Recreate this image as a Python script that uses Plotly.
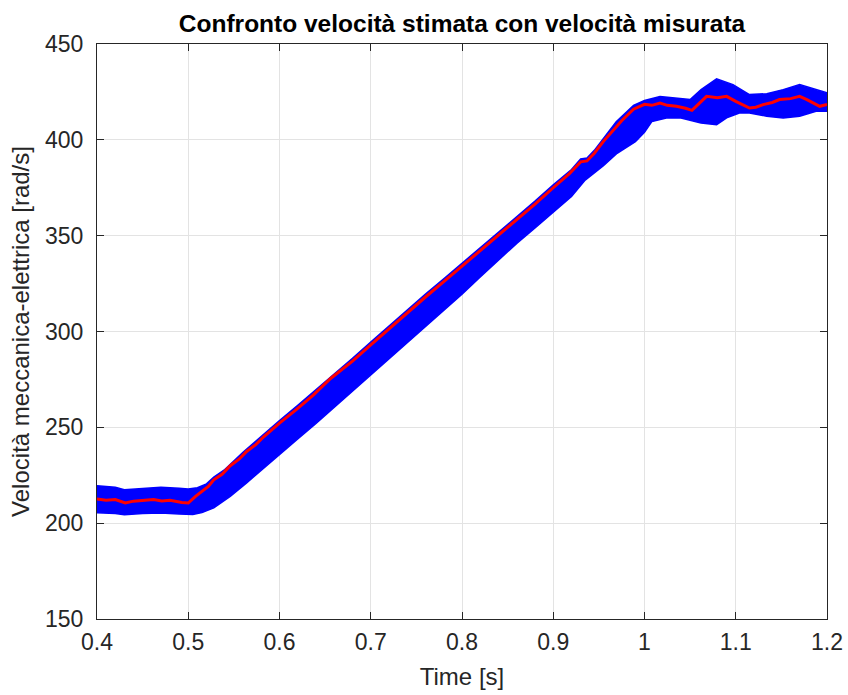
import plotly.graph_objects as go

# Measured speed (red trace)
t_meas = [0.400, 0.410, 0.420, 0.431, 0.440, 0.453, 0.462, 0.471, 0.480, 0.493, 0.500,
          0.508, 0.513, 0.522, 0.528, 0.537, 0.546, 0.556, 0.564, 0.574, 0.583, 0.600,
          0.619, 0.637, 0.656, 0.680, 0.700, 0.720, 0.740, 0.760, 0.780, 0.800, 0.820,
          0.840, 0.860, 0.880, 0.900, 0.918, 0.925, 0.930, 0.937, 0.945, 0.955, 0.966,
          0.975, 0.988, 1.000, 1.008, 1.017, 1.025, 1.035, 1.045, 1.052, 1.060, 1.068,
          1.080, 1.090, 1.100, 1.108, 1.115, 1.122, 1.130, 1.140, 1.148, 1.160, 1.170,
          1.178, 1.185, 1.192, 1.200]
v_meas = [212.6, 212.0, 212.3, 210.5, 211.5, 211.8, 212.3, 211.6, 211.9, 210.8, 210.5,
          214.0, 215.7, 219.2, 222.6, 225.5, 230.0, 233.5, 237.4, 241.0, 245.2, 252.2,
          259.5, 266.8, 275.5, 284.5, 293.0, 301.5, 310.0, 318.0, 326.0, 334.0, 342.0,
          350.5, 358.5, 366.5, 375.0, 382.5, 386.0, 388.5, 389.0, 393.0, 399.2, 405.0,
          410.0, 416.0, 418.5, 418.0, 419.2, 418.0, 417.5, 416.5, 415.4, 419.0, 422.7,
          422.0, 422.7, 420.1, 418.0, 416.6, 417.0, 418.4, 419.5, 421.0, 421.5, 422.7,
          421.0, 419.2, 417.5, 418.4]

# Estimated speed (blue band): upper and lower envelope of the ripple
t_est_hi = [0.400, 0.420, 0.430, 0.450, 0.470, 0.490, 0.500, 0.510, 0.520, 0.528,
            0.540, 0.560, 0.580, 0.600, 0.620, 0.640, 0.660, 0.680, 0.700, 0.720,
            0.740, 0.760, 0.780, 0.800, 0.820, 0.840, 0.860, 0.880, 0.900, 0.920,
            0.930, 0.937, 0.945, 0.955, 0.969, 0.988, 1.000, 1.017, 1.040, 1.050,
            1.062, 1.079, 1.097, 1.115, 1.134, 1.152, 1.170, 1.188, 1.200]
v_est_hi = [219.5, 218.8, 217.5, 218.2, 218.8, 218.2, 217.8, 218.5, 220.5, 224.0,
            228.0, 237.0, 245.5, 253.5, 261.5, 269.5, 278.0, 286.0, 294.5, 303.0,
            311.5, 319.5, 327.5, 335.5, 343.5, 352.0, 360.0, 368.0, 376.5, 384.5,
            390.0, 390.5, 394.5, 400.7, 409.4, 418.0, 420.5, 422.6, 421.3, 421.0,
            426.2, 431.8, 428.8, 423.6, 424.1, 426.2, 428.8, 426.2, 424.5]

t_est_lo = [0.400, 0.420, 0.430, 0.450, 0.470, 0.490, 0.505, 0.515, 0.528, 0.546,
            0.564, 0.583, 0.600, 0.620, 0.640, 0.660, 0.680, 0.700, 0.720, 0.740,
            0.760, 0.780, 0.800, 0.820, 0.840, 0.860, 0.880, 0.900, 0.920, 0.935,
            0.955, 0.970, 0.980, 0.990, 1.000, 1.008, 1.024, 1.040, 1.062, 1.079,
            1.090, 1.104, 1.115, 1.134, 1.152, 1.170, 1.188, 1.200]
v_est_lo = [205.5, 205.0, 204.4, 205.0, 205.3, 204.8, 204.5, 205.5, 208.0, 214.0,
            221.0, 228.8, 235.7, 244.0, 252.0, 260.0, 268.5, 277.5, 286.0, 294.5,
            302.5, 311.0, 319.5, 328.5, 337.5, 346.0, 354.0, 362.0, 370.5, 379.0,
            386.5, 393.0, 396.0, 399.0, 404.0, 409.5, 411.4, 411.4, 408.8, 407.9,
            411.5, 414.0, 414.0, 412.3, 411.4, 412.3, 414.9, 414.9]

x_ticks = [0.4, 0.5, 0.6, 0.7, 0.8, 0.9, 1.0, 1.1, 1.2]
x_tick_text = ["0.4", "0.5", "0.6", "0.7", "0.8", "0.9", "1", "1.1", "1.2"]
y_ticks = [150, 200, 250, 300, 350, 400, 450]

AX = "#262626"
FONT = "Liberation Sans, Arial, sans-serif"

fig = go.Figure()

# blue ripple band as a closed polygon: upper edge forward, lower edge back
fig.add_trace(go.Scatter(
    x=t_est_hi + t_est_lo[::-1],
    y=v_est_hi + v_est_lo[::-1],
    mode="lines", fill="toself",
    fillcolor="#0000ff",
    line=dict(color="#0000ff", width=1.5),
    hoverinfo="skip", showlegend=False,
))

fig.add_trace(go.Scatter(
    x=t_meas, y=v_meas, mode="lines",
    line=dict(color="#ff0000", width=3),
    showlegend=False,
))

axis_common = dict(
    showline=True, linecolor=AX, linewidth=1, mirror="ticks",
    ticks="inside", ticklen=7, tickcolor=AX, tickwidth=1,
    showgrid=True, gridcolor="#e3e3e3", gridwidth=1,
    zeroline=False, automargin=False,
    tickfont=dict(family=FONT, size=23, color=AX),
)

fig.update_xaxes(
    range=[0.4, 1.2], tickvals=x_ticks, ticktext=x_tick_text,
    ticklabelstandoff=2,
    title=dict(text="Time [s]", font=dict(family=FONT, size=24, color=AX), standoff=14),
    **axis_common,
)
fig.update_yaxes(
    range=[150, 450], tickvals=y_ticks,
    ticklabelstandoff=8,
    title=dict(text="Velocità meccanica-elettrica [rad/s]",
               font=dict(family=FONT, size=24, color=AX), standoff=8),
    **axis_common,
)

fig.update_layout(
    width=848, height=695,
    margin=dict(l=97, r=21, t=44, b=76),
    paper_bgcolor="white", plot_bgcolor="white",
    title=dict(text="<b>Confronto velocità stimata con velocità misurata</b>",
               font=dict(family=FONT, size=24.5, color="#000000"),
               x=(97 + 827) / 2 / 848, xanchor="center", y=0.966, yanchor="middle"),
)

fig.write_html("out.html")
